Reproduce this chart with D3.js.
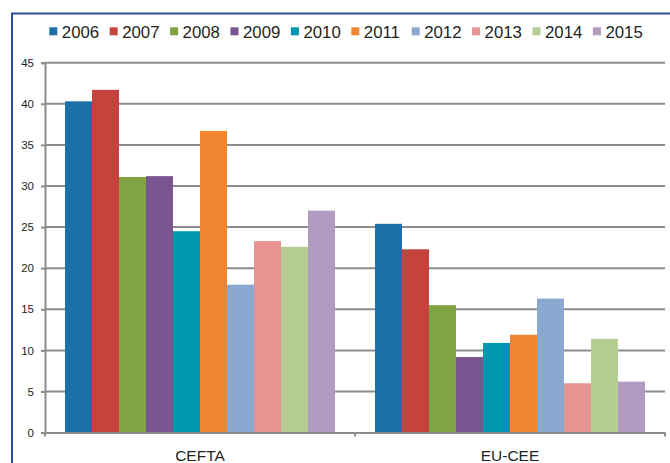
<!DOCTYPE html>
<html lang="en">
<head>
<meta charset="utf-8">
<script src="https://d3js.org/d3.v7.min.js"></script>
<style type="text/css">
body {
  margin: 0;
  background: #fff;
  font-family: "Liberation Sans", Arial, sans-serif;
}
.grid line {
  stroke: #8c8c8c;
  stroke-width: 2;
}
.axis path,
.axis line {
  fill: none;
  stroke: #8c8c8c;
  stroke-width: 2;
}
.axis text {
  fill: #231f20;
  font-family: "Liberation Sans", Arial, sans-serif;
}
</style>
<title>CEFTA vs EU-CEE</title>
</head>
<body>
<script type="text/javascript">
// data
var categories = ["CEFTA", "EU-CEE"];
var years = ["2006", "2007", "2008", "2009", "2010", "2011", "2012", "2013", "2014", "2015"];
var cefta = [40.3, 41.7, 31.1, 31.2, 24.5, 36.7, 18.0, 23.3, 22.6, 27.0];
var euCee = [25.4, 22.3, 15.5, 9.2, 10.9, 11.9, 16.3, 6.0, 11.4, 6.2];
var yTicks = [0, 5, 10, 15, 20, 25, 30, 35, 40, 45];
var colors = ["#1b70a8", "#c6433d", "#80a444", "#795592", "#0098b0",
              "#f18631", "#8aa8d0", "#e69491", "#b5cd92", "#b29bc1"];

var W = 670, H = 463;
var margin = {top: 62.7, right: 5, bottom: 30.4, left: 45};
var width = W - margin.left - margin.right;
var height = H - margin.top - margin.bottom;

var svg = d3.select("body").append("svg")
  .attr("width", W)
  .attr("height", H);

// blue frame (left and top edges visible)
svg.append("path")
  .attr("d", "M12,463 L12,13.5 L670,13.5")
  .attr("fill", "none")
  .attr("stroke", "#2f4c9c")
  .attr("stroke-width", 2);

var g = svg.append("g")
  .attr("transform", "translate(" + margin.left + "," + margin.top + ")");

var y = d3.scaleLinear().domain([0, 45]).range([height, 0]);
var x0 = d3.scaleBand().domain(categories).range([0, width]).padding(0);
var x1 = d3.scaleBand().domain(years)
  .range([x0.bandwidth() * 0.0645, x0.bandwidth() * 0.9355])
  .padding(0);

// gridlines
g.append("g")
  .attr("class", "grid")
  .selectAll("line")
  .data(yTicks.filter(function(d){ return d > 0; }))
  .enter().append("line")
    .attr("x1", 0)
    .attr("x2", width)
    .attr("y1", function(d){ return y(d); })
    .attr("y2", function(d){ return y(d); });

// bars
var rows = categories.map(function(c, i){
  return {cat: c, vals: i == 0 ? cefta : euCee};
});

g.selectAll(".cat")
  .data(rows)
  .enter().append("g")
    .attr("class", "cat")
    .attr("transform", function(d){ return "translate(" + x0(d.cat) + ",0)"; })
  .selectAll("rect")
  .data(function(d){ return d.vals; })
  .enter().append("rect")
    .attr("x", function(d, i){ return x1(years[i]); })
    .attr("y", function(d){ return y(d); })
    .attr("width", x1.bandwidth())
    .attr("height", function(d){ return height - y(d); })
    .attr("fill", function(d, i){ return colors[i]; });

// y axis
var yAxis = g.append("g")
  .attr("class", "axis")
  .call(d3.axisLeft(y).tickValues(yTicks).tickSize(4).tickPadding(7));
yAxis.selectAll("text").style("font-size", "11.5px");

// x axis with ticks at category boundaries
var xAxis = g.append("g")
  .attr("class", "axis")
  .attr("transform", "translate(0," + height + ")")
  .call(d3.axisBottom(x0).tickSize(0).tickPadding(17));
xAxis.selectAll("text").style("font-size", "15.5px");
xAxis.selectAll(".bound")
  .data([0, x0.bandwidth(), width])
  .enter().append("line")
    .attr("class", "bound")
    .attr("x1", function(d){ return d; })
    .attr("x2", function(d){ return d; })
    .attr("y1", 0)
    .attr("y2", 4);

// legend
var legend = svg.append("g")
  .attr("transform", "translate(49.3,0)");
years.forEach(function(yr, i){
  var row = legend.append("g")
    .attr("transform", "translate(" + (i * 60.4) + ",0)");
  row.append("rect")
    .attr("x", 0)
    .attr("y", 27.3)
    .attr("width", 8)
    .attr("height", 8)
    .attr("fill", colors[i]);
  row.append("text")
    .attr("x", 12.5)
    .attr("y", 37.5)
    .style("font-size", "16.8px")
    .style("fill", "#231f20")
    .text(yr);
});
</script>
</body>
</html>
